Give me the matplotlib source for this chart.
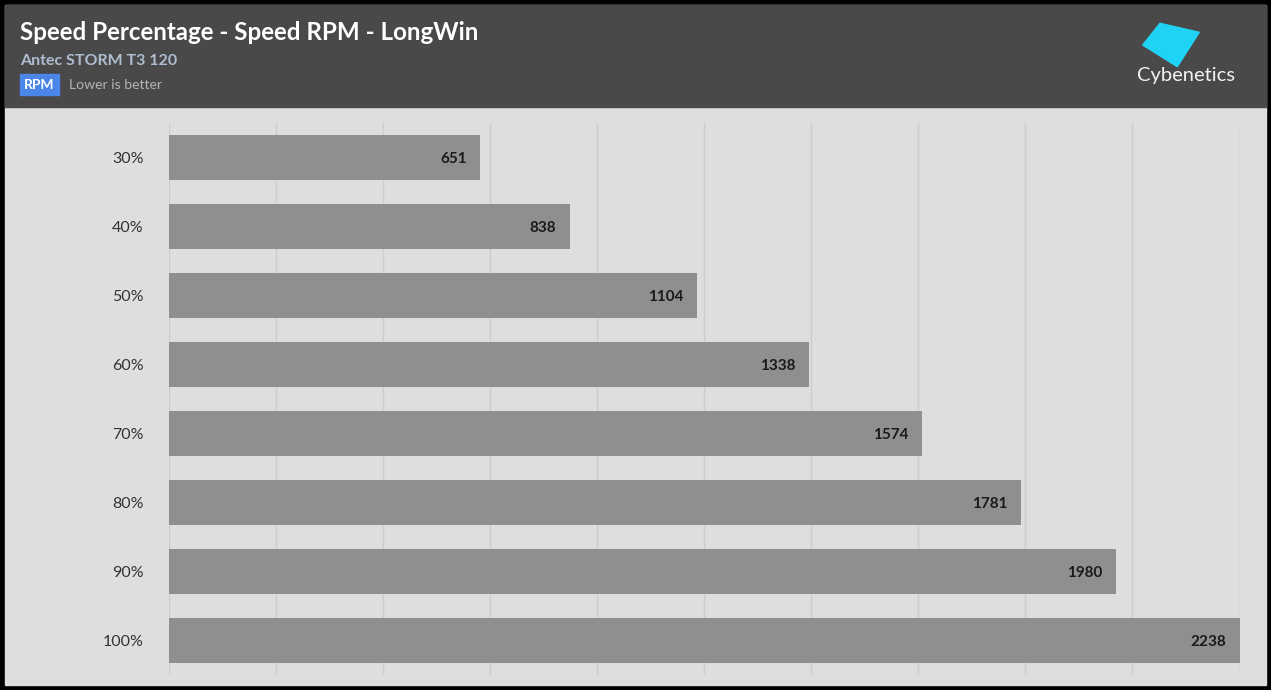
import numpy as np
import matplotlib
matplotlib.use("Agg")
import matplotlib.pyplot as plt
import matplotlib.transforms as mtransforms
from matplotlib.patches import Rectangle, Polygon

plt.rcParams['font.family'] = ['Lato', 'DejaVu Sans']

categories = ['30%', '40%', '50%', '60%', '70%', '80%', '90%', '100%']
rpm_values = [651, 838, 1104, 1338, 1574, 1781, 1980, 2238]
title = 'Speed Percentage - Speed RPM - LongWin'
subtitle = 'Antec STORM T3 120'
unit = 'RPM'
note = 'Lower is better'

W, H = 1271, 690
fig = plt.figure(figsize=(W / 100, H / 100), dpi=100, facecolor='black')

def fx(px):
    return px / W

def fy(py):
    return 1 - py / H

# background panels (plot area + header)
fig.add_artist(Rectangle((fx(5), fy(685)), fx(1261), (680) / H,
                         transform=fig.transFigure, color='#dedede', zorder=0))
fig.add_artist(Rectangle((fx(5), fy(107)), fx(1261), 102 / H,
                         transform=fig.transFigure, color='#494949', zorder=0))

# header texts
fig.text(fx(20), fy(33), title, color='white', fontsize=17.4, fontweight='bold',
         va='center', ha='left')
fig.text(fx(20), fy(61), subtitle, color='#aebdd0', fontsize=11.5, fontweight='bold',
         va='center', ha='left')
fig.add_artist(Rectangle((fx(20), fy(95)), fx(39), 21 / H,
                         transform=fig.transFigure, color='#4a86e8', zorder=1))
fig.text(fx(39.5), fy(85), unit, color='white', fontsize=10, fontweight='bold',
         va='center', ha='center', zorder=2)
fig.text(fx(69), fy(85), note, color='#b4b4b4', fontsize=10.1,
         va='center', ha='left')

# logo
logo = [(1142.7, 45), (1160, 23.3), (1199.3, 32.3), (1177.3, 66.7)]
fig.add_artist(Polygon([(fx(a), fy(b)) for a, b in logo], closed=True,
                       transform=fig.transFigure, color='#1fd3f5', zorder=1))
fig.text(fx(1185.5), fy(75), 'Cybenetics', color='#f2f2f2', fontsize=14.5,
         va='center', ha='center')

# chart
ax = fig.add_axes([fx(169), fy(675), (1239.5 - 169) / W, (675 - 123) / H])
ax.set_facecolor('none')
y = np.arange(len(categories))
ax.barh(y, rpm_values, height=0.65, color='#8f8f8f', zorder=2)
for yi, v in zip(y, rpm_values):
    ax.text(v - 2238 * 0.0125, yi + 0.02, str(v), ha='right', va='center',
            fontsize=11, fontweight='bold', color='#1a1a1a', zorder=3)

ax.set_xlim(0, 2238)
ax.set_ylim(len(categories) - 0.5, -0.5)
ax.set_xticks(np.linspace(0, 2238, 11))
ax.set_xticklabels([])
ax.set_yticks(y)
ax.set_yticklabels(categories, fontsize=11.5, color='#333333')
shift = mtransforms.ScaledTranslation(0, -2 / 100, fig.dpi_scale_trans)
for lbl in ax.get_yticklabels():
    lbl.set_transform(lbl.get_transform() + shift)
ax.tick_params(axis='y', length=0, pad=18.5)
ax.tick_params(axis='x', length=0)
ax.grid(axis='x', color='#cdcdcd', linewidth=1, zorder=1)
for s in ax.spines.values():
    s.set_visible(False)

fig.savefig('out.png', dpi=100, facecolor='black')
